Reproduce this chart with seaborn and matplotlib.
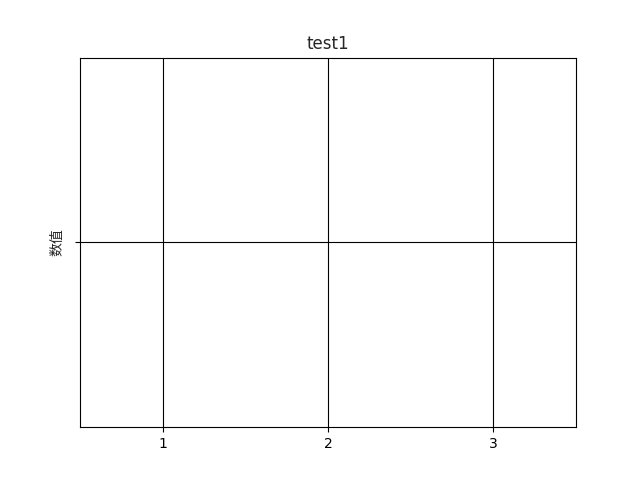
import matplotlib
matplotlib.use('Agg')
import matplotlib.pyplot as plt
import numpy as np
import pandas as pd
import seaborn as sns

x_ticks = [1, 2, 3]
y_ticks = [0]
y_label = '数值'
title = 'test1'

sns.set_style('ticks')
plt.rcParams['font.family'] = ['DejaVu Sans', 'Noto Sans CJK SC']

fig, ax = plt.subplots(figsize=(6.4, 4.8), dpi=100)
df = pd.DataFrame({'x': pd.Series(x_ticks, dtype=float), 'y': np.nan})
sns.lineplot(data=df, x='x', y='y', ax=ax)

ax.set_xlim(0.5, 3.5)
ax.set_ylim(-1, 1)
ax.set_xticks(x_ticks)
ax.set_yticks(y_ticks)
ax.set_yticklabels([''])
ax.grid(True, color='black', linewidth=0.8)
for s in ax.spines.values():
    s.set_color('black')
    s.set_linewidth(0.8)
ax.tick_params(colors='black', direction='out', length=3.5, width=0.8)
ax.set_xlabel('')
ax.set_ylabel(y_label, family=['Noto Sans CJK SC', 'DejaVu Sans'])
ax.set_title(title, fontsize=12)

fig.savefig('out.png', dpi=100)
